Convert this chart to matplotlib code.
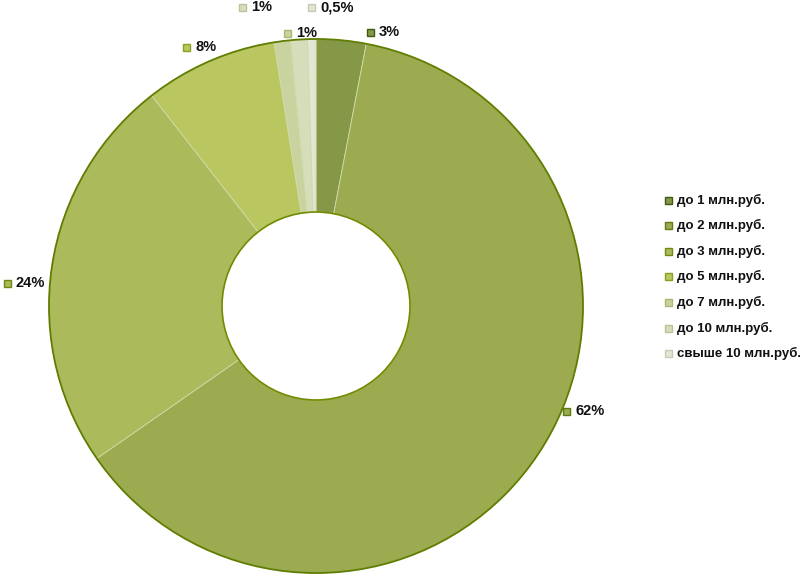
import matplotlib.pyplot as plt
from matplotlib.patches import Circle, Rectangle

categories = ["до 1 млн.руб.", "до 2 млн.руб.", "до 3 млн.руб.", "до 5 млн.руб.",
              "до 7 млн.руб.", "до 10 млн.руб.", "свыше 10 млн.руб."]
# order of slices clockwise from 12 o'clock
shares = [3, 62, 24, 8, 1, 1, 0.5]
share_labels = ["3%", "62%", "24%", "8%", "1%", "1%", "0,5%"]
colors = ["#849848", "#9cab50", "#abba5a", "#bac760", "#c9d3a0", "#d6ddba", "#e2e6d5"]
marker_edges = ["#3f5a10", "#5e7a12", "#6f8a10", "#8aa020", "#a8b870", "#b8c498", "#c4ccb4"]

# label anchor (marker x, y) in figure pixels
label_pos = [(370, 32), (566, 411), (7, 283), (186, 47), (287, 33), (242, 7), (311, 7)]

W, H = 800, 574
fig = plt.figure(figsize=(W / 100, H / 100), dpi=100)
ax = fig.add_axes([0, 0, 1, 1])

font = ['Liberation Sans Narrow', 'Liberation Sans', 'DejaVu Sans']

cx, cy = 316, H - 306
R, r_in = 267, 94
wedges, _ = ax.pie(shares, colors=colors, startangle=90, counterclock=False,
                   center=(cx, cy), radius=R, frame=True,
                   wedgeprops=dict(width=R - r_in, edgecolor='#d2d9a8', linewidth=0.6))
ax.set_xlim(0, W)
ax.set_ylim(0, H)
ax.set_aspect('equal')
ax.axis('off')
ax.add_patch(Circle((cx, cy), R, fill=False, edgecolor='#5f7d00', linewidth=1.3, zorder=5))
ax.add_patch(Circle((cx, cy), r_in, fill=False, edgecolor='#6f8c00', linewidth=1.2, zorder=5))

# data labels with little legend keys
for (px, py), lab, col, ec in zip(label_pos, share_labels, colors, marker_edges):
    y = H - py
    ax.add_patch(Rectangle((px - 3.5, y - 3.5), 7, 7, facecolor=col, edgecolor=ec,
                           linewidth=1, zorder=6))
    ax.text(px + 9, y, lab, fontsize=10.5, fontweight='bold', family=font,
            ha='left', va='center', color='#111111')

# legend
lx, ly0, dy = 668, 200, 25.6
for i, (cat, col, ec) in enumerate(zip(categories, colors, marker_edges)):
    y = H - (ly0 + i * dy)
    ax.add_patch(Rectangle((lx - 3.5, y - 3.5), 7, 7, facecolor=col, edgecolor=ec,
                           linewidth=1, zorder=6))
    ax.text(lx + 9, y, cat, fontsize=9.5, fontweight='bold', family=font,
            ha='left', va='center', color='#111111')

fig.savefig("out.png", dpi=100)
